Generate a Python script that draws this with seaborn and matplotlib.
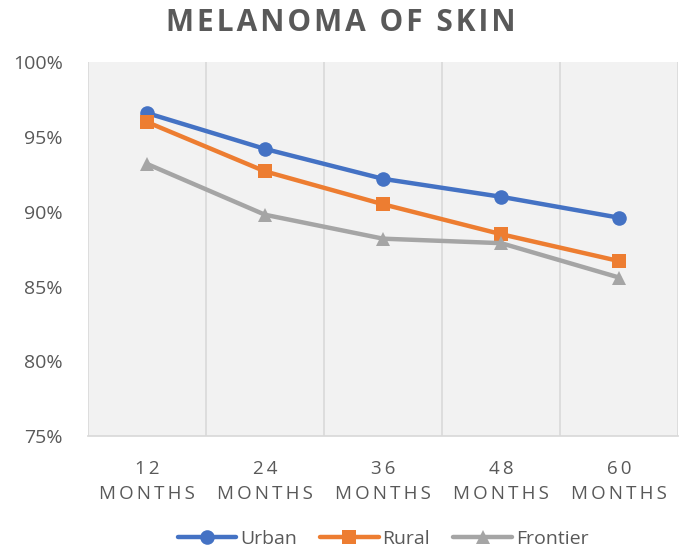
import pandas as pd
import matplotlib.pyplot as plt
import seaborn as sns
from matplotlib.ticker import FuncFormatter

# survival rates (%)
periods = ["12", "24", "36", "48", "60"]
urban = [96.6, 94.2, 92.2, 91.0, 89.6]
rural = [96.0, 92.7, 90.5, 88.5, 86.7]
frontier = [93.2, 89.8, 88.2, 87.9, 85.6]
tick_labels = ["12\nMONTHS", "24\nMONTHS", "36\nMONTHS", "48\nMONTHS", "60\nMONTHS"]

df = pd.DataFrame({
    "Period": periods * 3,
    "Rate": urban + rural + frontier,
    "Area": ["Urban"] * 5 + ["Rural"] * 5 + ["Frontier"] * 5,
})

sns.set_theme(style="white")
plt.rcParams["font.family"] = ["Open Sans", "DejaVu Sans"]
text_gray = "#595959"

fig = plt.figure(figsize=(6.81, 5.5), dpi=100)
ax = fig.add_axes([0.129, 0.207, 0.867, 0.680])
ax.set_facecolor("#F2F2F2")

palette = {"Urban": "#4472C4", "Rural": "#ED7D31", "Frontier": "#A5A5A5"}
markers = {"Urban": "o", "Rural": "s", "Frontier": "^"}
sns.lineplot(data=df, x="Period", y="Rate", hue="Area", style="Area",
             palette=palette, markers=markers, dashes=False, linewidth=3.2,
             markersize=10.5, markeredgewidth=0, ax=ax, sort=False)

ax.set_xlim(-0.5, 4.5)
ax.set_ylim(75, 100)
ax.set_yticks(range(75, 101, 5))
ax.yaxis.set_major_formatter(FuncFormatter(lambda v, p: f"{v:.0f}%"))

# vertical gridlines between categories
for b in [-0.5, 0.5, 1.5, 2.5, 3.5, 4.5]:
    ax.axvline(b, color="#D9D9D9", linewidth=1.2, zorder=0)

# spaced-out text, like Excel's character spacing
def spaced(s, sep="\u2009"):
    return "\n".join(sep.join(line) for line in s.split("\n"))

ax.set_xticks(range(5))
ax.set_xticklabels([spaced(t) for t in tick_labels], fontsize=13.5,
                   color=text_gray, linespacing=1.5)
ax.tick_params(axis="y", labelsize=14, colors=text_gray, length=0, pad=18)
ax.tick_params(axis="x", length=0, pad=17)
for s in ax.spines.values():
    s.set_visible(False)
ax.spines["bottom"].set_visible(True)
ax.spines["bottom"].set_color("#D9D9D9")
ax.set_xlabel("")
ax.set_ylabel("")

fig.suptitle(spaced("MELANOMA OF SKIN", "\u200a"), fontsize=21.5,
             fontweight="bold", color=text_gray, x=0.5, y=0.985)

handles, labels = ax.get_legend_handles_labels()
ax.legend(handles, labels, loc="center", bbox_to_anchor=(0.5, -0.275),
          ncol=3, frameon=False, fontsize=14, labelcolor=text_gray,
          handlelength=3, columnspacing=1.2, handletextpad=0.2)

fig.savefig("out.png", dpi=100)
